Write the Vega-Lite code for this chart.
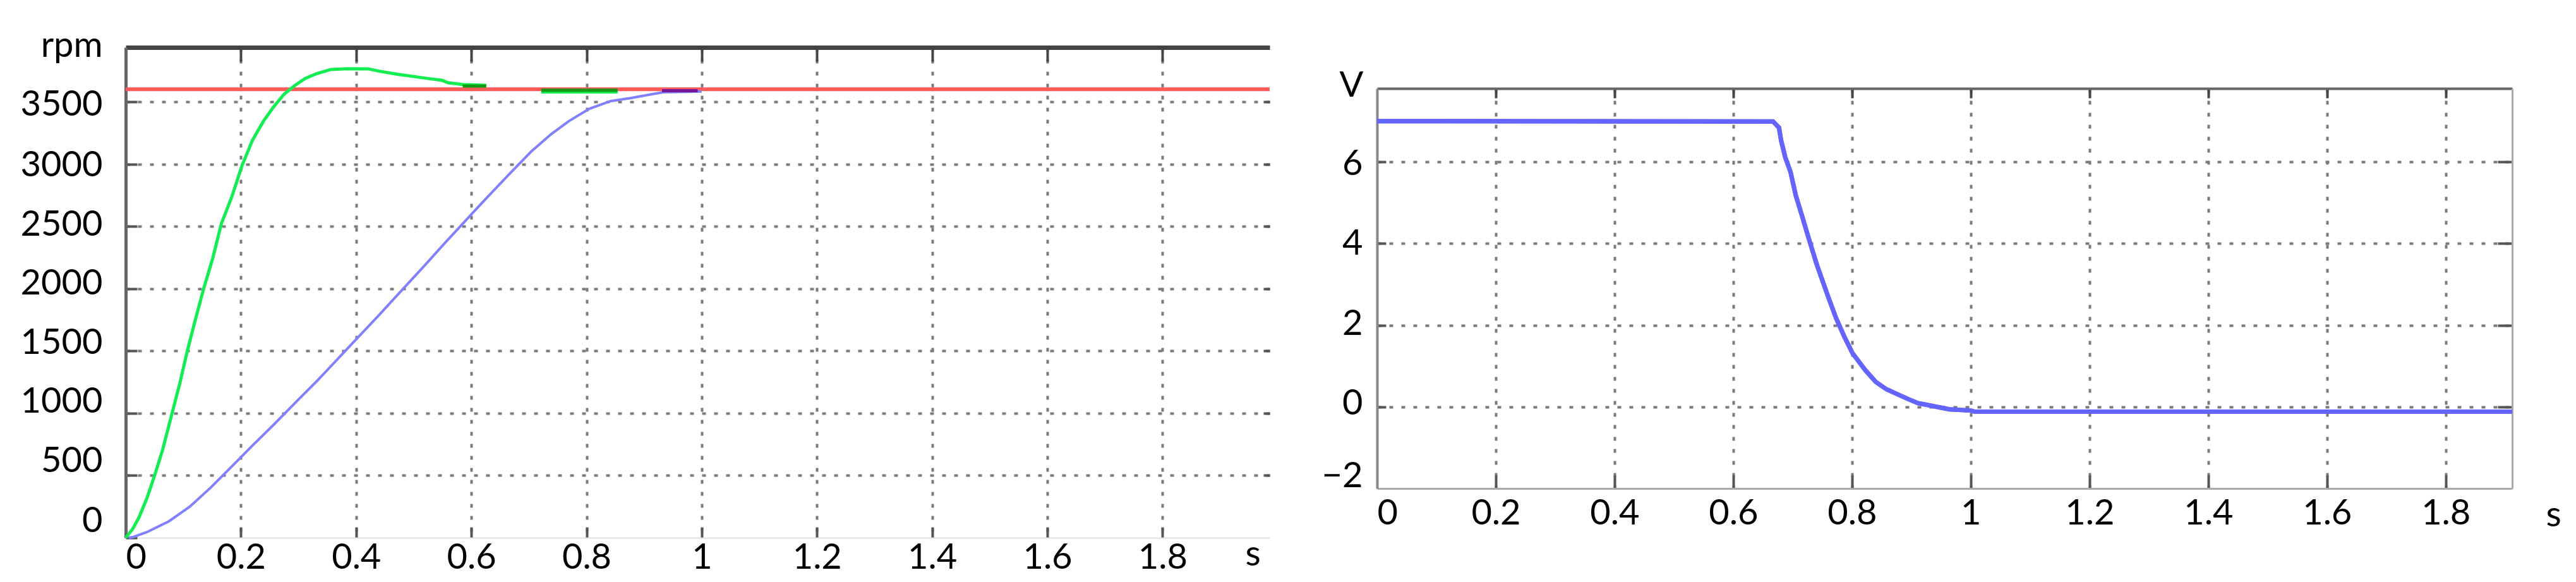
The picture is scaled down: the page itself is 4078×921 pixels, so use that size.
{
  "$schema": "https://vega.github.io/schema/vega-lite/v6.json",
  "background": "white",
  "padding": {"left": 32, "top": 44, "right": 25, "bottom": 12},
  "config": {
    "view": {"stroke": null},
    "font": "Lato",
    "axis": {
      "labelFont": "Lato", "labelFontSize": 56, "labelColor": "#000000",
      "titleFont": "Lato", "titleFontSize": 56, "titleFontWeight": "normal", "titleColor": "#000000",
      "gridColor": "#7a7a7a", "gridDash": [6, 13], "gridWidth": 4, "labelOverlap": false
    }
  },
  "datasets": {
    "ref": [{"t": 0, "v": 3600}, {"t": 1.986, "v": 3600}],
    "blue": [
      {"t": 0.005, "v": 0}, {"t": 0.012, "v": 5}, {"t": 0.037, "v": 46}, {"t": 0.075, "v": 132},
      {"t": 0.111, "v": 249}, {"t": 0.147, "v": 400}, {"t": 0.191, "v": 604}, {"t": 0.22, "v": 740},
      {"t": 0.257, "v": 908}, {"t": 0.3, "v": 1110}, {"t": 0.333, "v": 1263}, {"t": 0.395, "v": 1568},
      {"t": 0.44, "v": 1788}, {"t": 0.48, "v": 1990}, {"t": 0.52, "v": 2190}, {"t": 0.55, "v": 2345},
      {"t": 0.588, "v": 2535}, {"t": 0.627, "v": 2730}, {"t": 0.665, "v": 2915}, {"t": 0.704, "v": 3100},
      {"t": 0.739, "v": 3241}, {"t": 0.769, "v": 3343}, {"t": 0.805, "v": 3444}, {"t": 0.842, "v": 3505},
      {"t": 0.878, "v": 3530}, {"t": 0.914, "v": 3561}, {"t": 0.933, "v": 3576}, {"t": 0.991, "v": 3581},
      {"t": 1.0, "v": 3582}
    ],
    "green": [
      {"t": 0, "v": 0, "seg": 1}, {"t": 0.012, "v": 70, "seg": 1}, {"t": 0.023, "v": 162, "seg": 1},
      {"t": 0.037, "v": 320, "seg": 1}, {"t": 0.05, "v": 497, "seg": 1}, {"t": 0.064, "v": 705, "seg": 1},
      {"t": 0.081, "v": 1009, "seg": 1}, {"t": 0.094, "v": 1240, "seg": 1}, {"t": 0.107, "v": 1500, "seg": 1},
      {"t": 0.122, "v": 1770, "seg": 1}, {"t": 0.136, "v": 2010, "seg": 1}, {"t": 0.151, "v": 2242, "seg": 1},
      {"t": 0.166, "v": 2520, "seg": 1}, {"t": 0.184, "v": 2734, "seg": 1}, {"t": 0.202, "v": 2988, "seg": 1},
      {"t": 0.22, "v": 3190, "seg": 1}, {"t": 0.239, "v": 3343, "seg": 1}, {"t": 0.257, "v": 3460, "seg": 1},
      {"t": 0.275, "v": 3561, "seg": 1}, {"t": 0.294, "v": 3632, "seg": 1}, {"t": 0.312, "v": 3688, "seg": 1},
      {"t": 0.33, "v": 3723, "seg": 1}, {"t": 0.356, "v": 3759, "seg": 1}, {"t": 0.385, "v": 3765, "seg": 1},
      {"t": 0.421, "v": 3764, "seg": 1}, {"t": 0.44, "v": 3745, "seg": 1}, {"t": 0.47, "v": 3722, "seg": 1},
      {"t": 0.5, "v": 3702, "seg": 1}, {"t": 0.53, "v": 3683, "seg": 1}, {"t": 0.549, "v": 3672, "seg": 1},
      {"t": 0.56, "v": 3652, "seg": 1}, {"t": 0.585, "v": 3638, "seg": 1}, {"t": 0.626, "v": 3632, "seg": 1},
      {"t": 0.7215, "v": 3578, "seg": 2}, {"t": 0.854, "v": 3578, "seg": 2}
    ],
    "dkgreen": [
      {"t": 0.585, "v": 3625, "seg": 1}, {"t": 0.626, "v": 3625, "seg": 1},
      {"t": 0.7215, "v": 3592, "seg": 2}, {"t": 0.854, "v": 3592, "seg": 2}
    ],
    "purple": [{"t": 0.931, "v": 3588}, {"t": 0.993, "v": 3588}],
    "volt": [
      {"t": 0, "v": 7}, {"t": 0.667, "v": 6.99}, {"t": 0.677, "v": 6.84}, {"t": 0.6805, "v": 6.53},
      {"t": 0.6876, "v": 6.11}, {"t": 0.6965, "v": 5.75}, {"t": 0.7053, "v": 5.18}, {"t": 0.716, "v": 4.67},
      {"t": 0.7266, "v": 4.15}, {"t": 0.7408, "v": 3.48}, {"t": 0.7585, "v": 2.75}, {"t": 0.7727, "v": 2.19},
      {"t": 0.787, "v": 1.72}, {"t": 0.801, "v": 1.31}, {"t": 0.8223, "v": 0.9}, {"t": 0.84, "v": 0.61},
      {"t": 0.858, "v": 0.43}, {"t": 0.893, "v": 0.2}, {"t": 0.911, "v": 0.09}, {"t": 0.929, "v": 0.04},
      {"t": 0.9465, "v": -0.01}, {"t": 0.964, "v": -0.06}, {"t": 1.0, "v": -0.09}, {"t": 1.007, "v": -0.12},
      {"t": 1.912, "v": -0.12}
    ]
  },
  "spacing": 70,
  "hconcat": [
    {
      "width": 1811,
      "height": 776,
      "resolve": {"axis": {"x": "independent", "y": "independent"}},
      "layer": [
        {
          "data": {"name": "ref"},
          "mark": {"type": "line", "color": "#ff5a5a", "strokeWidth": 6},
          "encoding": {
            "x": {"field": "t", "type": "quantitative", "scale": {"domain": [0, 1.986], "nice": false, "zero": false},
              "axis": {"orient": "top", "labels": false, "grid": false, "title": null, "domainColor": "#444444", "domainWidth": 7,
                "tickSize": -22, "tickColor": "#444444", "tickWidth": 4, "values": [0.2, 0.4, 0.6, 0.8, 1, 1.2, 1.4, 1.6, 1.8]}},
            "y": {"field": "v", "type": "quantitative", "scale": {"domain": [0, 3936], "nice": false},
              "axis": {"orient": "right", "labels": false, "grid": false, "title": null, "domain": false,
                "tickSize": -10, "tickColor": "#555555", "tickWidth": 4, "values": [500, 1000, 1500, 2000, 2500, 3000, 3500]}}
          }
        },
        {
          "data": {"name": "blue"},
          "mark": {"type": "line", "color": "#8080ff", "strokeWidth": 4},
          "encoding": {
            "x": {"field": "t", "type": "quantitative", "scale": {"domain": [0, 1.986], "nice": false, "zero": false},
              "axis": {"orient": "bottom", "values": [0, 0.2, 0.4, 0.6, 0.8, 1, 1.2, 1.4, 1.6, 1.8], "format": "~g",
                "grid": true, "gridOpacity": {"condition": {"test": "datum.value === 0", "value": 0}, "value": 1},
                "domainColor": "#e2e2e2", "domainWidth": 2,
                "tickSize": -17, "tickColor": "#555555", "tickWidth": 4,
                "tickOpacity": {"condition": {"test": "datum.value === 0", "value": 0}, "value": 1},
                "labelPadding": 21,
                "title": "s", "titleX": 1784, "titleY": 43, "titleAlign": "center", "titleBaseline": "alphabetic"}},
            "y": {"field": "v", "type": "quantitative", "scale": {"domain": [0, 3936], "nice": false},
              "axis": {"orient": "left", "values": [0, 500, 1000, 1500, 2000, 2500, 3000, 3500], "format": "d",
                "grid": true, "gridOpacity": {"condition": {"test": "datum.value === 0", "value": 0}, "value": 1},
                "domainColor": "#666666", "domainWidth": 5,
                "tickSize": -18, "tickColor": "#555555", "tickWidth": 4,
                "labelPadding": 55,
                "labelOffset": {"condition": [
                  {"test": "datum.value === 0", "value": -27},
                  {"test": "datum.value === 500", "value": -23},
                  {"test": "datum.value === 1000", "value": -18},
                  {"test": "datum.value === 1500", "value": -13},
                  {"test": "datum.value === 2000", "value": -8},
                  {"test": "datum.value === 2500", "value": -3},
                  {"test": "datum.value === 3000", "value": 2}
                ], "value": 5},
                "title": "rpm", "titleAngle": 0, "titleX": -37, "titleY": 14, "titleAlign": "right", "titleBaseline": "alphabetic"}}
          }
        },
        {
          "data": {"name": "green"},
          "mark": {"type": "line", "color": "#12ee52", "strokeWidth": 5},
          "encoding": {
            "x": {"field": "t", "type": "quantitative", "scale": {"domain": [0, 1.986], "nice": false, "zero": false}, "axis": null},
            "y": {"field": "v", "type": "quantitative", "scale": {"domain": [0, 3936], "nice": false}, "axis": null},
            "detail": {"field": "seg", "type": "nominal"}
          }
        },
        {
          "data": {"name": "dkgreen"},
          "mark": {"type": "line", "color": "#159a15", "strokeWidth": 5},
          "encoding": {
            "x": {"field": "t", "type": "quantitative", "scale": {"domain": [0, 1.986], "nice": false, "zero": false}, "axis": null},
            "y": {"field": "v", "type": "quantitative", "scale": {"domain": [0, 3936], "nice": false}, "axis": null},
            "detail": {"field": "seg", "type": "nominal"}
          }
        },
        {
          "data": {"name": "purple"},
          "mark": {"type": "line", "color": "#7a1496", "strokeWidth": 5},
          "encoding": {
            "x": {"field": "t", "type": "quantitative", "scale": {"domain": [0, 1.986], "nice": false, "zero": false}, "axis": null},
            "y": {"field": "v", "type": "quantitative", "scale": {"domain": [0, 3936], "nice": false}, "axis": null}
          }
        }
      ]
    },
    {
      "spacing": 20,
      "vconcat": [
        {
          "width": 10,
          "height": 12,
          "data": {"values": []},
          "mark": "point",
          "encoding": {}
        },
        {
          "width": 1797,
          "height": 633,
          "resolve": {"axis": {"x": "independent", "y": "independent"}},
          "layer": [
            {
              "data": {"name": "volt"},
              "mark": {"type": "line", "color": "#6464ff", "strokeWidth": 7},
              "encoding": {
                "x": {"field": "t", "type": "quantitative", "scale": {"domain": [0, 1.912], "nice": false, "zero": false},
                  "axis": {"orient": "bottom", "values": [0, 0.2, 0.4, 0.6, 0.8, 1, 1.2, 1.4, 1.6, 1.8], "format": "~g",
                    "grid": true, "gridOpacity": {"condition": {"test": "datum.value === 0", "value": 0}, "value": 1},
                    "domainColor": "#aaaaaa", "domainWidth": 3,
                    "tickSize": -21, "tickColor": "#555555", "tickWidth": 4,
                    "tickOpacity": {"condition": {"test": "datum.value === 0", "value": 0}, "value": 1},
                    "labelPadding": 33,
                    "title": "s", "titleX": 1862, "titleY": 59, "titleAlign": "center", "titleBaseline": "alphabetic"}},
                "y": {"field": "v", "type": "quantitative", "scale": {"domain": [-2, 7.8], "nice": false, "zero": false},
                  "axis": {"orient": "left", "values": [-2, 0, 2, 4, 6],
                    "grid": true, "gridOpacity": {"condition": {"test": "datum.value === -2", "value": 0}, "value": 1},
                    "domainColor": "#888888", "domainWidth": 4,
                    "tickSize": -14, "tickColor": "#555555", "tickWidth": 4,
                    "tickOpacity": {"condition": {"test": "datum.value === -2", "value": 0}, "value": 1},
                    "labelPadding": 37,
                    "labelOffset": {"condition": [
                      {"test": "datum.value === -2", "value": -20},
                      {"test": "datum.value === 0", "value": -5},
                      {"test": "datum.value === 2", "value": -2},
                      {"test": "datum.value === 4", "value": 0}
                    ], "value": 3},
                    "title": "V", "titleAngle": 0, "titleX": -22, "titleY": 12, "titleAlign": "right", "titleBaseline": "alphabetic"}}
              }
            },
            {
              "data": {"name": "volt"},
              "mark": {"type": "line", "color": "#6464ff", "strokeWidth": 7},
              "encoding": {
                "x": {"field": "t", "type": "quantitative", "scale": {"domain": [0, 1.912], "nice": false, "zero": false},
                  "axis": {"orient": "top", "labels": false, "grid": false, "title": null, "domainColor": "#666666", "domainWidth": 4,
                    "tickSize": -15, "tickColor": "#444444", "tickWidth": 4, "values": [0.2, 0.4, 0.6, 0.8, 1, 1.2, 1.4, 1.6, 1.8]}},
                "y": {"field": "v", "type": "quantitative", "scale": {"domain": [-2, 7.8], "nice": false, "zero": false},
                  "axis": {"orient": "right", "labels": false, "grid": false, "title": null, "domainColor": "#aaaaaa", "domainWidth": 3,
                    "tickSize": -23, "tickColor": "#555555", "tickWidth": 4, "values": [0, 2, 4, 6]}}
              }
            }
          ]
        }
      ]
    }
  ]
}
